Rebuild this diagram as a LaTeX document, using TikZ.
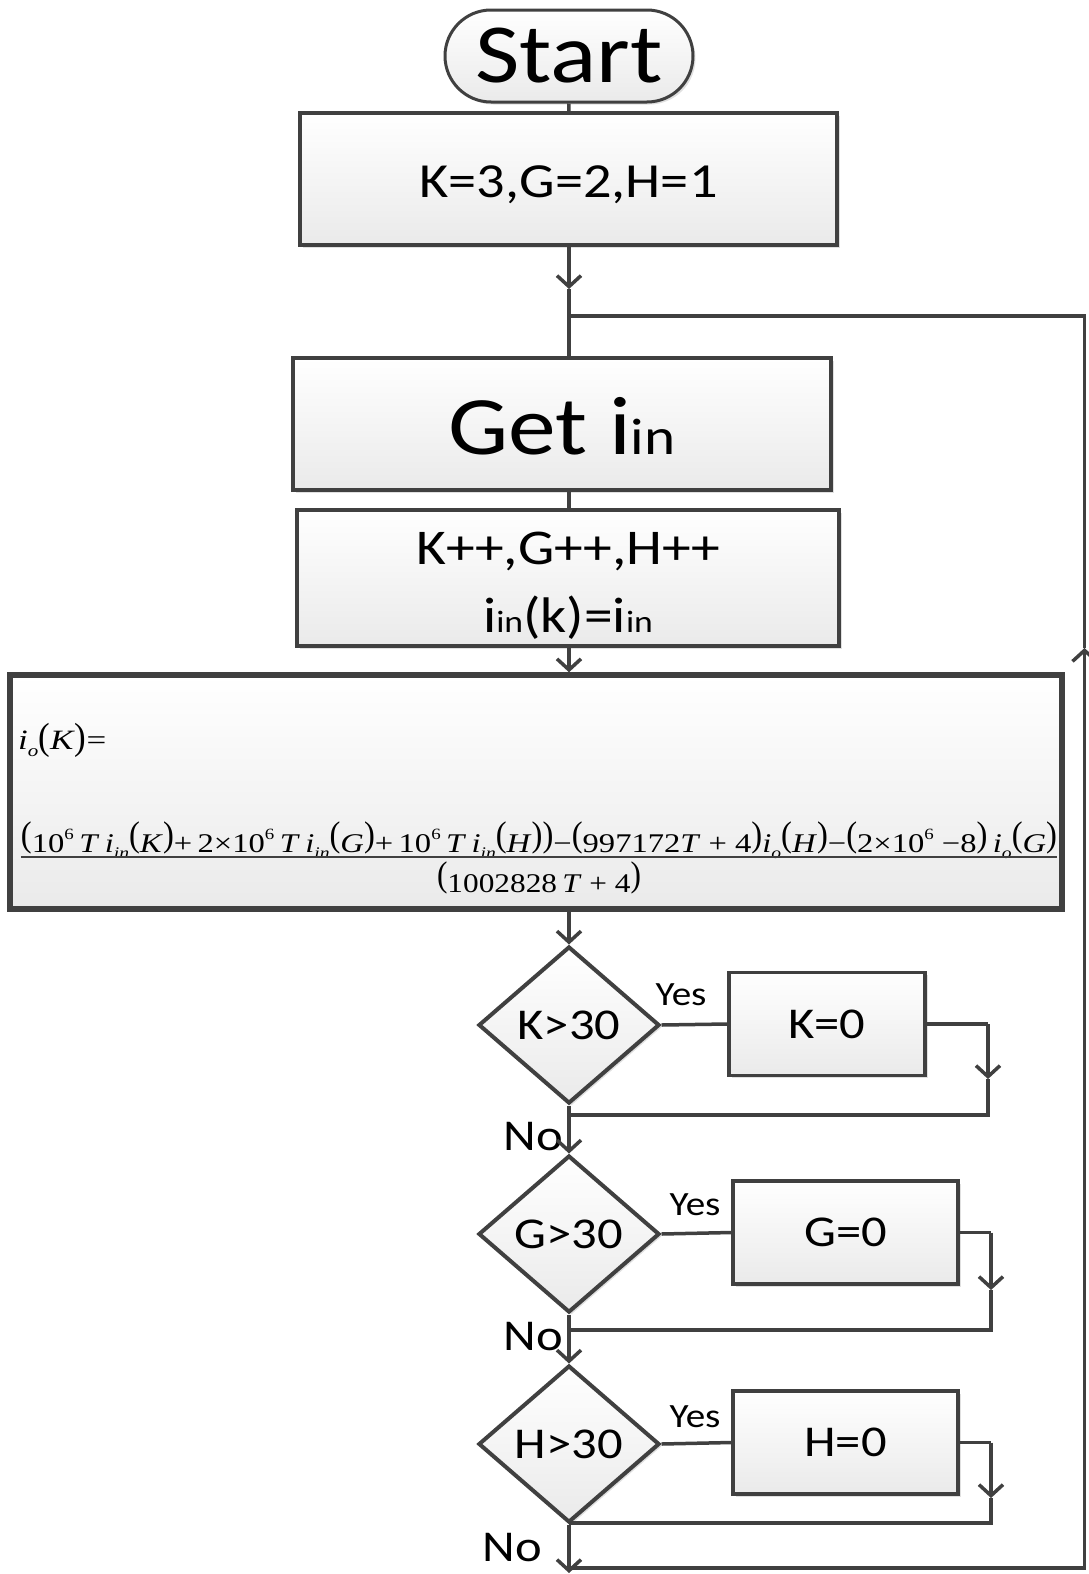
\documentclass[tikz,border=0pt]{standalone}
\usepackage{fontspec}
\setmainfont{Carlito}[FakeStretch=1.15]
\newfontfamily\tnr{Liberation Serif}
\usetikzlibrary{shapes.geometric,shapes.misc,arrows.meta,shadows}
\definecolor{lc}{HTML}{404040}
\definecolor{fb}{HTML}{EAEAEA}
\newcommand{\fsz}[1]{\fontsize{#1pt}{#1pt}\selectfont}
\newcommand{\sml}[1]{\scalebox{0.62}{#1}}
\newcommand{\vi}[1]{\textit{#1}}
\newcommand{\sbs}[1]{\raisebox{-0.25em}{\scalebox{0.6}{\textit{#1}}}}
\newcommand{\sps}[1]{\raisebox{0.45em}{\scalebox{0.58}{#1}}}
\newcommand{\bpl}{\raisebox{0.2em}{\scalebox{1}[1.32]{(}}}
\newcommand{\bpr}{\raisebox{0.2em}{\scalebox{1}[1.32]{)}}}
\newcommand{\lpl}{\raisebox{-0.03em}{\scalebox{1}[1.35]{(}}}
\newcommand{\lpr}{\raisebox{-0.03em}{\scalebox{1}[1.35]{)}}}
\newcommand{\txtdown}[2]{\raisebox{-#1}[\height][\depth]{#2}}
\begin{document}
\begin{tikzpicture}[x=1pt,y=-1pt,
  ln/.style={draw=lc, line width=3.5pt},
  arr/.style={ln, -{Straight Barb[length=11pt,width=24pt]}},
  boxst/.style={rectangle, draw=lc, line width=3.5pt, top color=white, bottom color=fb,
    inner sep=0pt, align=center,
    drop shadow={shadow xshift=2.5pt, shadow yshift=-2.5pt, fill=black, opacity=0.12}},
  startst/.style={rounded rectangle, draw=lc, line width=3pt, top color=white, bottom color=fb,
    inner sep=0pt, minimum width=248pt, minimum height=92pt,
    drop shadow={shadow xshift=2.5pt, shadow yshift=-2.5pt, fill=black, opacity=0.12}},
  decst/.style={diamond, draw=lc, line width=4pt, top color=white, bottom color=fb,
    inner sep=0pt, aspect=1.15, minimum width=181pt, minimum height=157pt,
    drop shadow={shadow xshift=2.5pt, shadow yshift=-2.5pt, fill=black, opacity=0.12}},
  lbl/.style={inner sep=0pt}
]
\useasboundingbox (0,0) rectangle (1088,1574);
\fill[white] (0,0) rectangle (1088,1574);

% nodes
\node[startst] (start) at (569,56) {\fsz{84}Start};
\node[boxst, minimum width=537pt, minimum height=132pt] (init) at (568.5,179) {\fsz{49}\txtdown{6pt}{K=3,G=2,H=1}};
\coordinate (a1) at (569,289);
\coordinate (j1) at (569,316);
\node[boxst, minimum width=538pt, minimum height=132pt] (get) at (562,424) {\fsz{83}\txtdown{2pt}{Get i\sml{in}}};
\node[boxst, minimum width=542pt, minimum height=132pt] (upd) at (568,578)
  {\fontsize{50pt}{68pt}\selectfont\txtdown{7pt}{\begin{tabular}{@{}c@{}}K++,G++,H++\\i\sml{in}(k)=i\sml{in}\end{tabular}}};
\node[boxst, line width=5.5pt, minimum width=1052pt, minimum height=234pt] (form) at (536,792) {};
\node[lbl, anchor=base west, font=\tnr\fontsize{28pt}{28pt}\selectfont] (lhs) at (18,749)
  {\scalebox{1.25}[1]{\vi{i}\sbs{o}\lpl\vi{K}\lpr=}};
\node[lbl, anchor=base, font=\tnr\fontsize{27pt}{27pt}\selectfont] (num) at (539,852)
  {\resizebox{1036pt}{\height}{\bpl10\sps{6}\,\vi{T}\,\vi{i}\sbs{in}\bpl\vi{K}\bpr+\,2×10\sps{6}\,\vi{T}\,\vi{i}\sbs{in}\bpl\vi{G}\bpr+\,10\sps{6}\,\vi{T}\,\vi{i}\sbs{in}\bpl\vi{H}\bpr\bpr−\bpl997172\vi{T} + 4\bpr\vi{i}\sbs{o}\bpl\vi{H}\bpr−\bpl2×10\sps{6} −8\bpr\,\vi{i}\sbs{o}\bpl\vi{G}\bpr}};
\node[lbl, anchor=base, font=\tnr\fontsize{27pt}{27pt}\selectfont] (den) at (539,892)
  {\resizebox{204pt}{\height}{\bpl1002828\,\vi{T} + 4\bpr}};
\draw[lc, line width=2pt] ([yshift=-5pt]num.base west) -- ([yshift=-5pt]num.base east);

\node[decst] (dK) at (569,1025) {\fsz{44}K>30};
\node[boxst, minimum width=196pt, minimum height=103pt] (kz) at (827,1024) {\fsz{44}K=0};
\node[lbl, font=\fsz{34}] (yK) at (681,995) {Yes};
\node[lbl, font=\fsz{44}] (nK) at (533,1137) {No};

\node[decst] (dG) at (569,1234) {\fsz{44}G>30};
\node[boxst, minimum width=225pt, minimum height=103pt] (gz) at (845.5,1232.5) {\fsz{44}G=0};
\node[lbl, font=\fsz{34}] (yG) at (695,1205) {Yes};
\node[lbl, font=\fsz{44}] (nG) at (533,1337) {No};

\node[decst] (dH) at (569,1444) {\fsz{44}H>30};
\node[boxst, minimum width=225pt, minimum height=103pt] (hz) at (845.5,1442.5) {\fsz{44}H=0};
\node[lbl, font=\fsz{34}] (yH) at (695,1417) {Yes};
\node[lbl, font=\fsz{44}] (nH) at (512,1548) {No};

% loop coordinates
\coordinate (kr1) at (988,1024);
\coordinate (ka) at (988,1079);
\coordinate (kr2) at (988,1115);
\coordinate (gr1) at (991,1232.5);
\coordinate (ga) at (991,1290);
\coordinate (gr2) at (991,1330);
\coordinate (hr1) at (991,1442.5);
\coordinate (ha) at (991,1498);
\coordinate (hr2) at (991,1523);
\coordinate (fin) at (569,1573);
\coordinate (b0) at (569,1568);
\coordinate (r0) at (1084.5,1568);
\coordinate (ra) at (1084.5,648);
\coordinate (r1) at (1084.5,316);

% connectors
\draw[ln] (start) -- (init);
\draw[arr] (init.south -| j1) -- (a1);
\draw[ln] (a1) -- (j1) -- (j1 |- get.north);
\draw[ln] (j1 |- get.south) -- (j1 |- upd.north);
\draw[arr] (j1 |- upd.south) -- (j1 |- form.north);
\draw[arr] (j1 |- form.south) -- (dK.north);

\draw[ln] (dK.east) -- (kz.west);
\draw[ln] (kz.east) -- (kr1);
\draw[arr] (kr1) -- (ka);
\draw[ln] (ka) -- (kr2) -- (dK.south |- kr2);
\draw[arr] (dK.south) -- (dG.north);

\draw[ln] (dG.east) -- (gz.west);
\draw[ln] (gz.east) -- (gr1);
\draw[arr] (gr1) -- (ga);
\draw[ln] (ga) -- (gr2) -- (dG.south |- gr2);
\draw[arr] (dG.south) -- (dH.north);

\draw[ln] (dH.east) -- (hz.west);
\draw[ln] (hz.east) -- (hr1);
\draw[arr] (hr1) -- (ha);
\draw[ln] (ha) -- (hr2) -- (dH.south |- hr2);
\draw[arr] (dH.south) -- (fin);

\draw[arr] (b0) -- (r0) -- (ra);
\draw[ln] (ra) -- (r1) -- (j1);
\end{tikzpicture}
\end{document}
